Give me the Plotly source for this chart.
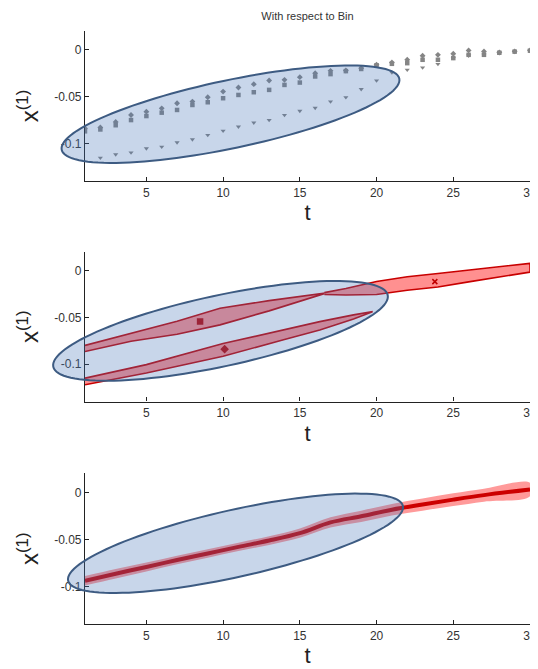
import math
import plotly.graph_objects as go

# ---------------- data ----------------
t = list(range(1, 31))

# Panel 1: bin trajectories (gray points)
traj_a = [-0.084, -0.0828, -0.077, -0.0696, -0.066, -0.0625, -0.0571, -0.0553, -0.0507, -0.0446,
          -0.0403, -0.0367, -0.0328, -0.0321, -0.0292, -0.025, -0.0225, -0.0221, -0.0196, -0.016,
          -0.0136, -0.0107, -0.0064, -0.0054, -0.0043, -0.0007, -0.0018, -0.0029, -0.0018, -0.0007]
traj_b = [-0.087, -0.085, -0.0805, -0.075, -0.0707, -0.0671, -0.0642, -0.0589, -0.056, -0.0517,
          -0.0482, -0.0453, -0.0428, -0.0375, -0.035, -0.0285, -0.026, -0.0228, -0.0205, -0.0165,
          -0.0150, -0.0143, -0.0107, -0.0107, -0.0089, -0.0054, -0.0054, -0.0032, -0.0020, -0.0010]
traj_c = [None, -0.1153, -0.1117, -0.1096, -0.1053, -0.1035, -0.0989, -0.0956, -0.091, -0.0864,
          -0.0821, -0.0778, -0.075, -0.0696, -0.0653, -0.0621, -0.0553, -0.0507, -0.0421, -0.0328,
          -0.0243, -0.0214, -0.019, -0.0153, -0.0089, -0.0064, -0.0054, -0.0032, -0.0020, -0.0010]

# Panel 2: cluster tubes
band1_t = [1, 4, 7, 9.8, 13, 16.6]
band1_hi = [-0.080, -0.067, -0.054, -0.0402, -0.032, -0.024]
band1_lo = [-0.0865, -0.0755, -0.068, -0.058, -0.043, -0.0245]
band2_t = [1, 5, 10, 14, 16.3, 18.5, 19.7]
band2_hi = [-0.115, -0.1005, -0.078, -0.0631, -0.0545, -0.0473, -0.0438]
band2_lo = [-0.122, -0.1095, -0.0915, -0.0737, -0.0634, -0.0516, -0.0442]
band3_t = [16.6, 18, 20, 22, 24, 26, 28, 30]
band3_hi = [-0.0235, -0.019, -0.0115, -0.0065, -0.003, 0.0005, 0.004, 0.0079]
band3_lo = [-0.0255, -0.026, -0.0255, -0.021, -0.0175, -0.012, -0.0065, -0.0015]
centers_t = [8.5, 10.1, 23.8]
centers_y = [-0.0545, -0.084, -0.0117]

# Panel 3: mean trajectory with band
mean_t = [1, 3, 5, 7, 9, 11, 13, 15, 17, 19, 21, 23, 25, 27, 30]
mean_y = [-0.094, -0.0865, -0.0794, -0.072, -0.065, -0.058, -0.0513, -0.0434, -0.032, -0.0255,
          -0.0185, -0.013, -0.0078, -0.003, 0.003]
mean_hw = [0.005, 0.005, 0.0048, 0.0046, 0.0045, 0.0045, 0.0046, 0.005, 0.0055, 0.006,
           0.0062, 0.0065, 0.0067, 0.0069, 0.0071]

x_ticks = [5, 10, 15, 20, 25, 30]
y_ticks = [0, -0.05, -0.1]
y_ticktext = ["0", "-0.05", "-0.1"]

# ---------------- layout geometry ----------------
OFF = 8                      # page body margin in the browser
SW, SH = 538, 669            # screenshot size
W, H = SW - OFF, SH - OFF    # figure size
ML, MR, MT, MB = 85 - OFF, 8, 31 - OFF, 45
PW, PH = W - ML - MR, H - MT - MB
domains = [[0.747, 1.0], [0.3752, 0.6273], [0.0, 0.2538]]

GRAY = "#858585"
RED = "#cc0000"
FONT = "Liberation Sans, Arial"

fig = go.Figure()

# Panel 1
for vals, sym in [(traj_a, "diamond"), (traj_b, "square"), (traj_c, "triangle-down")]:
    fig.add_trace(go.Scatter(x=t, y=vals, mode="markers", xaxis="x", yaxis="y",
                             marker=dict(color=GRAY, size=4.5, symbol=sym), showlegend=False))

# Panel 2
for bt, hi, lo in [(band1_t, band1_hi, band1_lo), (band2_t, band2_hi, band2_lo), (band3_t, band3_hi, band3_lo)]:
    fig.add_trace(go.Scatter(x=bt + bt[::-1], y=hi + lo[::-1], mode="lines", fill="toself",
                             fillcolor="#ff9090", line=dict(color="#c80000", width=1.6),
                             xaxis="x2", yaxis="y2", showlegend=False))
fig.add_trace(go.Scatter(x=centers_t, y=centers_y, mode="markers", xaxis="x2", yaxis="y2",
                         marker=dict(color="#c00000", size=5, symbol=["square", "diamond", "x-thin-open"],
                                     line=dict(color="#c00000", width=1.5)),
                         showlegend=False))

# Panel 3
upper = [m + h for m, h in zip(mean_y, mean_hw)]
lower = [m - h for m, h in zip(mean_y, mean_hw)]
fig.add_trace(go.Scatter(x=mean_t + mean_t[::-1], y=upper + lower[::-1], mode="lines", fill="toself",
                         fillcolor="#ff9a9a", line=dict(width=0, shape="spline"), xaxis="x3", yaxis="y3",
                         showlegend=False))
fig.add_trace(go.Scatter(x=mean_t, y=mean_y, mode="lines", line=dict(color=RED, width=4, shape="spline"),
                         xaxis="x3", yaxis="y3", showlegend=False))

# ---------------- axes ----------------
axis_common = dict(showline=True, linecolor="#222", linewidth=1.2, ticks="inside", ticklen=4,
                   tickcolor="#222", tickwidth=1.2, showgrid=False, zeroline=False,
                   tickfont=dict(family=FONT, size=12, color="#333"))
layout = dict(width=W, height=H, margin=dict(l=ML, r=MR, t=MT, b=MB, autoexpand=False),
              plot_bgcolor="white", paper_bgcolor="white", showlegend=False)
for i, dom in enumerate(domains, start=1):
    xs = "" if i == 1 else str(i)
    layout["xaxis" + xs] = dict(axis_common, range=[1, 30], domain=[0, 1], anchor="y" + xs,
                                tickvals=x_ticks, automargin=False,
                                title=dict(text="t", standoff=6,
                                           font=dict(family=FONT, size=22, color="#222")))
    layout["yaxis" + xs] = dict(axis_common, range=[-0.14, 0.02], domain=dom, anchor="x" + xs,
                                tickvals=y_ticks, ticktext=y_ticktext, automargin=False,
                                title=dict(text="x<sup>(1)</sup>", standoff=8,
                                           font=dict(family=FONT, size=24, color="#222")))
fig.update_layout(**layout)
fig.update_layout(title=dict(text="With respect to Bin", x=0.5, xref="paper", y=1 - (16 - OFF) / H,
                             yref="container", yanchor="middle", xanchor="center",
                             font=dict(family=FONT, size=11, color="#333")))

# ---------------- highlight ellipses (screen-pixel geometry -> paper coords) ----------------
def ellipse_path(cx, cy, a, b, theta_deg, n=120):
    th = math.radians(theta_deg)
    pts = []
    for k in range(n):
        p = 2 * math.pi * k / n
        dx = a * math.cos(p) * math.cos(th) - b * math.sin(p) * math.sin(th)
        dy = a * math.cos(p) * math.sin(th) + b * math.sin(p) * math.cos(th)
        px, py = cx + dx - OFF, cy - dy - OFF
        pts.append(((px - ML) / PW, (H - MB - py) / PH))
    return "M " + " L ".join(f"{x:.5f},{y:.5f}" for x, y in pts) + " Z"

for cx, cy, a, b, th in [(230.5, 114.2, 172.5, 34, 11.9), (220.5, 330.9, 171, 35.5, 12.1),
                         (235.5, 543.3, 171.5, 33.5, 12.6)]:
    fig.add_shape(type="path", path=ellipse_path(cx, cy, a, b, th), xref="paper", yref="paper",
                  fillcolor="rgba(72,118,185,0.30)", line=dict(color="#3d5b82", width=2), layer="above")

fig.write_html("out.html")
